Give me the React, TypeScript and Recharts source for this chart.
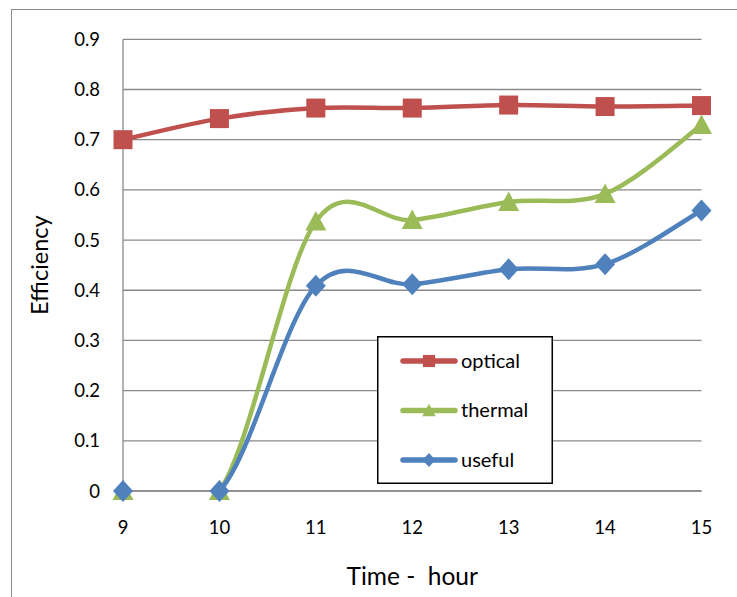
import React from 'react';
import { LineChart, Line, XAxis, YAxis, CartesianGrid, Legend } from 'recharts';

const hours = [9, 10, 11, 12, 13, 14, 15];
const optical = [0.700, 0.742, 0.763, 0.763, 0.769, 0.766, 0.768];
const thermal = [0, 0, 0.537, 0.540, 0.576, 0.592, 0.729];
const useful = [0, 0, 0.409, 0.412, 0.442, 0.452, 0.559];
const yTicks = [0, 0.1, 0.2, 0.3, 0.4, 0.5, 0.6, 0.7, 0.8, 0.9];
const seriesNames = ['optical', 'thermal', 'useful'];
const seriesColors = ['#C0504D', '#9BBB59', '#4F81BD'];
const markerKinds = ['square', 'triangle', 'diamond'];
const xTitle = 'Time -  hour';
const yTitle = 'Efficiency';

const data = hours.map((h, i) => ({
  hour: h,
  optical: optical[i],
  thermal: thermal[i],
  useful: useful[i],
}));

const GRID = '#8a8a8a';
const FONT = 'Lato, "Liberation Sans", sans-serif';

// Excel-like smoothed line (Bezier with 1/6 tangent control points)
function excelSmooth(context: any) {
  let pts: number[][] = [];
  return {
    areaStart() {},
    areaEnd() {},
    lineStart() {
      pts = [];
    },
    point(x: number, y: number) {
      pts.push([+x, +y]);
    },
    lineEnd() {
      const n = pts.length;
      if (!n) return;
      context.moveTo(pts[0][0], pts[0][1]);
      for (let i = 0; i < n - 1; i++) {
        const p0 = pts[i - 1] || pts[i];
        const p1 = pts[i];
        const p2 = pts[i + 1];
        const p3 = pts[i + 2] || pts[i + 1];
        context.bezierCurveTo(
          p1[0] + (p2[0] - p0[0]) / 6,
          p1[1] + (p2[1] - p0[1]) / 6,
          p2[0] - (p3[0] - p1[0]) / 6,
          p2[1] - (p3[1] - p1[1]) / 6,
          p2[0],
          p2[1]
        );
      }
    },
  };
}

function markerShape(kind: string, cx: number, cy: number, color: string, s: number, key?: any) {
  if (kind === 'square') {
    const h = 9.5 * s;
    return <rect key={key} x={cx - h} y={cy - h} width={2 * h} height={2 * h} fill={color} />;
  }
  if (kind === 'triangle') {
    return (
      <polygon
        key={key}
        points={`${cx},${cy - 10.5 * s} ${cx + 10.5 * s},${cy + 9 * s} ${cx - 10.5 * s},${cy + 9 * s}`}
        fill={color}
      />
    );
  }
  return (
    <polygon
      key={key}
      points={`${cx},${cy - 11 * s} ${cx + 10 * s},${cy} ${cx},${cy + 11 * s} ${cx - 10 * s},${cy}`}
      fill={color}
    />
  );
}

const makeDot = (kind: string, color: string) => (props: any) => {
  const { cx, cy, key, index } = props;
  if (cx == null || cy == null) return <g key={key ?? index} />;
  return markerShape(kind, cx, cy, color, 1, key ?? `${kind}-${index}`);
};

const LegendBox = () => (
  <svg width={176} height={148} style={{ display: 'block' }}>
    <rect x={0.75} y={0.75} width={174.5} height={146.5} fill="#fff" stroke="#000" strokeWidth={1.5} />
    {seriesNames.map((name, i) => {
      const y = 25 + i * 49.5;
      return (
        <g key={name}>
          <line x1={26} x2={78} y1={y} y2={y} stroke={seriesColors[i]} strokeWidth={5.5} strokeLinecap="round" />
          {markerShape(markerKinds[i], 52, y, seriesColors[i], 0.64)}
          <text x={84} y={y + 6.5} fontSize={20} fontFamily={FONT} fill="#000">
            {name}
          </text>
        </g>
      );
    })}
  </svg>
);

const XTitle = (props: any) => {
  const vb = props.viewBox || {};
  return (
    <text
      x={vb.x + vb.width / 2}
      y={585}
      textAnchor="middle"
      fontSize={24.5}
      fontFamily={FONT}
      fill="#000"
      style={{ whiteSpace: 'pre' }}
    >
      {xTitle}
    </text>
  );
};

const YTitle = (props: any) => {
  const vb = props.viewBox || {};
  const cy = vb.y + vb.height / 2;
  return (
    <text
      x={48}
      y={cy}
      transform={`rotate(-90, 48, ${cy})`}
      textAnchor="middle"
      fontSize={23.5}
      fontFamily={FONT}
      fill="#000"
    >
      {yTitle}
    </text>
  );
};

export default function App() {
  return (
    <div
      style={{
        position: 'absolute',
        left: 0,
        top: 0,
        width: 737,
        height: 597,
        overflow: 'hidden',
        background: '#fff',
        fontFamily: FONT,
      }}
    >
      <div
        style={{
          position: 'absolute',
          left: 11,
          top: 9,
          width: 1000,
          height: 1000,
          borderLeft: `1.5px solid ${GRID}`,
          borderTop: `1.5px solid ${GRID}`,
        }}
      />
      <div style={{ position: 'absolute', left: 0, top: 0 }}>
        <LineChart
          width={737}
          height={597}
          data={data}
          margin={{ top: 39.3, right: 35.5, bottom: 46, left: 0 }}
        >
          <CartesianGrid vertical={false} stroke={GRID} strokeWidth={1.3} yAxisId="main" />
          <XAxis
            dataKey="hour"
            type="number"
            domain={[9, 15]}
            ticks={hours}
            height={60}
            axisLine={{ stroke: GRID, strokeWidth: 1.3 }}
            tickLine={false}
            tickMargin={24}
            tick={{ fill: '#000', fontSize: 18.5, fontFamily: FONT }}
            label={XTitle}
          />
          <YAxis
            yAxisId="main"
            domain={[0, 0.9]}
            ticks={yTicks}
            allowDataOverflow
            width={123}
            axisLine={{ stroke: GRID, strokeWidth: 1.3 }}
            tickLine={false}
            tickMargin={17}
            tick={{ fill: '#000', fontSize: 18.5, fontFamily: FONT }}
            tickFormatter={(v: number) => (v === 0 ? '0' : v.toFixed(1))}
            label={YTitle}
          />
          <YAxis yAxisId="markers" domain={[0, 0.9]} hide />
          {seriesNames.flatMap((name, i) => [
            <Line
              key={`${name}-curve`}
              yAxisId="main"
              dataKey={name}
              type={excelSmooth as any}
              stroke={seriesColors[i]}
              strokeWidth={4.5}
              dot={false}
              activeDot={false}
              isAnimationActive={false}
              legendType="none"
            />,
            <Line
              key={`${name}-markers`}
              yAxisId="markers"
              dataKey={name}
              stroke="none"
              dot={makeDot(markerKinds[i], seriesColors[i])}
              activeDot={false}
              isAnimationActive={false}
              legendType="none"
            />,
          ])}
          <Legend
            layout="vertical"
            align="center"
            verticalAlign="middle"
            content={LegendBox}
            wrapperStyle={{ left: 377, top: 336, width: 176, height: 148 }}
          />
        </LineChart>
      </div>
    </div>
  );
}
